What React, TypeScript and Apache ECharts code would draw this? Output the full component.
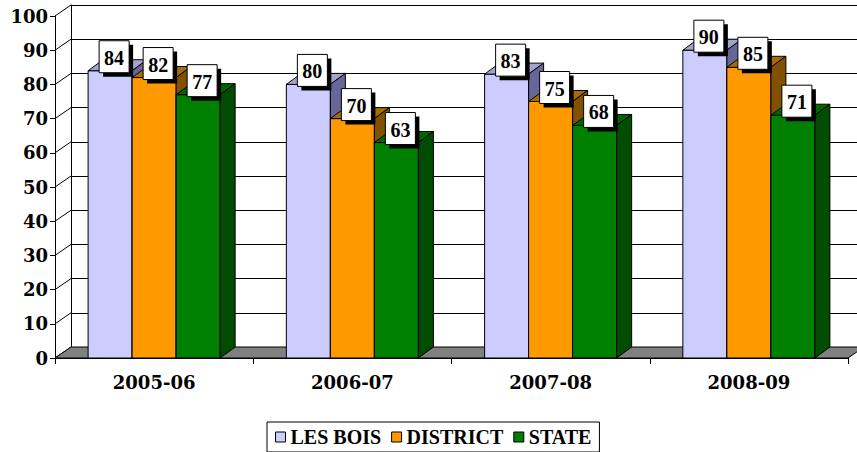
import React, { useEffect, useRef } from "react";
import * as echarts from "echarts";

const categories = ["2005-06", "2006-07", "2007-08", "2008-09"];
const seriesNames = ["LES BOIS", "DISTRICT", "STATE"];
const lesBois = [84, 80, 83, 90];
const district = [82, 70, 75, 85];
const state = [77, 63, 68, 71];
const yTicks = [0, 10, 20, 30, 40, 50, 60, 70, 80, 90, 100];

const frontColors = ["#CCCCFF", "#FF9900", "#008000"];
const topColors = ["#A3A3CC", "#A86C00", "#006600"];
const sideColors = ["#666699", "#805200", "#004C00"];

const DX = 15;
const DY = -11;
const WDX = 16;
const WDY = -11;
const BAR_FRAC = 0.222;
const AXIS_FONT = "DejaVu Serif";
const LABEL_FONT = "Liberation Serif";

function barGeom(params: any, api: any, s: number) {
  const cat = api.value(0);
  const v = api.value(1);
  const c = api.coord([cat, v]);
  const base = api.coord([cat, 0]);
  const band = api.size([1, 0])[0];
  const w = band * BAR_FRAC;
  const cx = c[0] + (s - 1) * w;
  return { x0: cx - w / 2, x1: cx + w / 2, cx, yTop: c[1], yBot: base[1], w };
}

function makeBarSeries(s: number, values: number[]) {
  return {
    name: seriesNames[s],
    type: "custom",
    xAxisIndex: 0,
    yAxisIndex: 0,
    z: 2,
    itemStyle: { color: frontColors[s] },
    encode: { x: 0, y: 1 },
    data: values.map((v, i) => [i, v]),
    renderItem: (params: any, api: any) => {
      const g = barGeom(params, api, s);
      const st = { stroke: "#000", lineWidth: 1 };
      return {
        type: "group",
        children: [
          {
            type: "rect",
            shape: { x: g.x0, y: g.yTop, width: g.w, height: g.yBot - g.yTop },
            style: { fill: frontColors[s], ...st },
          },
          {
            type: "polygon",
            shape: {
              points: [
                [g.x0, g.yTop],
                [g.x1, g.yTop],
                [g.x1 + DX, g.yTop + DY],
                [g.x0 + DX, g.yTop + DY],
              ],
            },
            style: { fill: topColors[s], ...st },
          },
          {
            type: "polygon",
            shape: {
              points: [
                [g.x1, g.yTop],
                [g.x1 + DX, g.yTop + DY],
                [g.x1 + DX, g.yBot + DY],
                [g.x1, g.yBot],
              ],
            },
            style: { fill: sideColors[s], ...st },
          },
        ],
      };
    },
  };
}

function makeLabelSeries(s: number, values: number[]) {
  return {
    name: seriesNames[s] + " labels",
    type: "custom",
    xAxisIndex: 0,
    yAxisIndex: 0,
    z: 6,
    silent: true,
    encode: { x: 0, y: 1 },
    data: values.map((v, i) => [i, v]),
    renderItem: (params: any, api: any) => {
      const g = barGeom(params, api, s);
      const bw = 30;
      const bh = 32;
      const cx = g.cx + 4;
      const cy = g.yTop - 14;
      return {
        type: "group",
        children: [
          {
            type: "rect",
            shape: { x: cx - bw / 2 + 4, y: cy - bh / 2 + 4, width: bw, height: bh },
            style: { fill: "#000" },
          },
          {
            type: "rect",
            shape: { x: cx - bw / 2, y: cy - bh / 2, width: bw, height: bh },
            style: { fill: "#fff", stroke: "#000", lineWidth: 1 },
          },
          {
            type: "text",
            style: {
              text: String(api.value(1)),
              x: cx,
              y: cy + 1,
              align: "center",
              verticalAlign: "middle",
              fontFamily: LABEL_FONT,
              fontWeight: "bold",
              fontSize: 20,
              fill: "#000",
            },
          },
        ],
      };
    },
  };
}

export default function App() {
  const ref = useRef<HTMLDivElement>(null);
  useEffect(() => {
    if (!ref.current) return;
    const chart = echarts.init(ref.current, null, { renderer: "svg" });
    const option: any = {
      animation: false,
      backgroundColor: "#fff",
      grid: [
        { left: 55, top: 16, width: 793, height: 342 },
        { left: 71, top: 5, width: 793, height: 342 },
      ],
      xAxis: [
        {
          type: "category",
          gridIndex: 0,
          data: categories,
          boundaryGap: true,
          z: 3,
          axisLine: { show: true, lineStyle: { color: "#000", width: 1 } },
          axisTick: { show: true, length: 6, lineStyle: { color: "#000" } },
          axisLabel: {
            margin: 15,
            color: "#000",
            fontFamily: AXIS_FONT,
            fontWeight: "bold",
            fontSize: 18,
          },
          splitLine: { show: false },
        },
        {
          type: "value",
          gridIndex: 1,
          min: 0,
          max: 1,
          show: false,
        },
      ],
      yAxis: [
        {
          type: "value",
          gridIndex: 0,
          min: 0,
          max: 100,
          interval: 10,
          z: 3,
          axisLine: { show: true, lineStyle: { color: "#000", width: 1 } },
          axisTick: { show: true, length: 5, lineStyle: { color: "#000" } },
          axisLabel: {
            margin: 7,
            color: "#000",
            fontFamily: AXIS_FONT,
            fontWeight: "bold",
            fontSize: 18,
          },
          splitLine: { show: false },
        },
        {
          type: "value",
          gridIndex: 1,
          min: 0,
          max: 100,
          interval: 10,
          axisLine: { show: true, lineStyle: { color: "#000", width: 1 } },
          axisTick: { show: false },
          axisLabel: { show: false },
          splitLine: { show: true, lineStyle: { color: "#000", width: 1 } },
        },
      ],
      legend: {
        left: 267,
        top: 422,
        padding: [5, 8],
        borderColor: "#000",
        borderWidth: 1,
        itemWidth: 10,
        itemHeight: 10,
        itemGap: 10,
        textStyle: {
          color: "#000",
          fontFamily: LABEL_FONT,
          fontWeight: "bold",
          fontSize: 20,
        },
        data: seriesNames.map((n, i) => ({
          name: n,
          icon: "rect",
          itemStyle: { color: frontColors[i], borderColor: "#000", borderWidth: 1 },
        })),
      },
      series: [
        {
          type: "line",
          xAxisIndex: 1,
          yAxisIndex: 1,
          data: [],
          silent: true,
        },
        {
          name: "walls",
          type: "custom",
          xAxisIndex: 0,
          yAxisIndex: 0,
          z: 1,
          silent: true,
          encode: { x: 0, y: 1 },
          data: yTicks.map((v) => [0, v]),
          renderItem: (params: any, api: any) => {
            const p = api.coord([0, api.value(1)]);
            const x = params.coordSys.x;
            return {
              type: "line",
              shape: { x1: x, y1: p[1], x2: x + WDX, y2: p[1] + WDY },
              style: { stroke: "#000", lineWidth: 1 },
            };
          },
        },
        {
          name: "floor",
          type: "custom",
          xAxisIndex: 0,
          yAxisIndex: 0,
          z: 1,
          silent: true,
          encode: { x: 0, y: 1 },
          data: [[0, 0]],
          renderItem: (params: any, api: any) => {
            const cs = params.coordSys;
            const y = api.coord([0, 0])[1];
            return {
              type: "polygon",
              shape: {
                points: [
                  [cs.x, y],
                  [cs.x + cs.width, y],
                  [cs.x + cs.width + WDX, y + WDY],
                  [cs.x + WDX, y + WDY],
                ],
              },
              style: { fill: "#808080", stroke: "#000", lineWidth: 1 },
            };
          },
        },
        makeBarSeries(0, lesBois),
        makeBarSeries(1, district),
        makeBarSeries(2, state),
        makeLabelSeries(0, lesBois),
        makeLabelSeries(1, district),
        makeLabelSeries(2, state),
      ],
    };
    chart.setOption(option);
    return () => chart.dispose();
  }, []);
  return (
    <div
      ref={ref}
      style={{ position: "fixed", left: 0, top: 0, width: 857, height: 452 }}
    />
  );
}
